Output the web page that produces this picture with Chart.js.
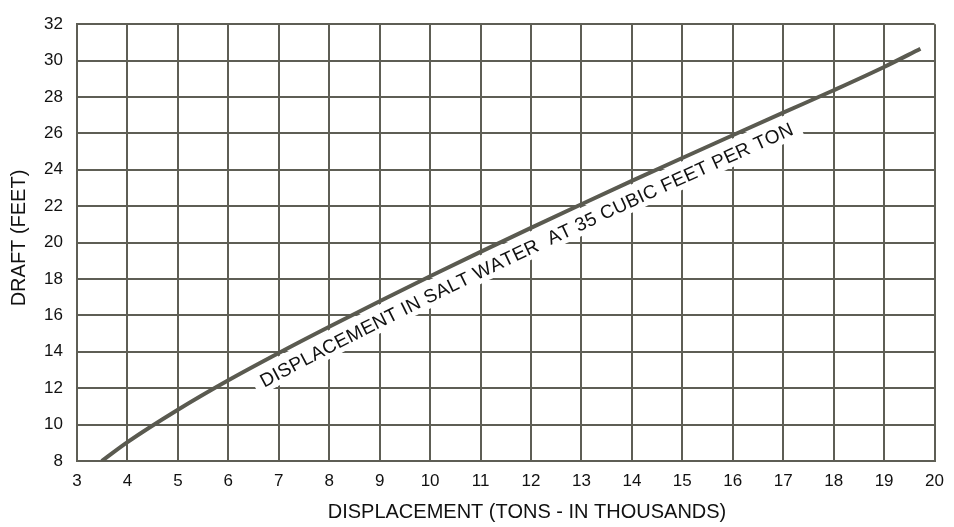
<!DOCTYPE html>
<html>
<head>
<meta charset="utf-8">
<title>Draft vs displacement</title>
<script src="https://cdn.jsdelivr.net/npm/chart.js@4.4.1/dist/chart.umd.min.js"></script>
<style>
  html, body { margin: 0; padding: 0; background: #fff; }
  canvas { display: block; }
</style>
</head>
<body>
<canvas id="chart" width="954" height="527"></canvas>
<script>
// displacement (thousands of tons) vs draft (feet)
const displacement = [3.49, 4, 5, 6, 7, 8, 9, 10, 11, 12, 13, 14, 15, 16, 17, 18, 19, 19.72];
const draft = [8, 9.04, 10.82, 12.44, 13.94, 15.38, 16.78, 18.15, 19.49, 20.81, 22.11, 23.39, 24.65, 25.9, 27.14, 28.37, 29.65, 30.65];

const xRange = [3, 20];
const yRange = [8, 32];

const xTitle = 'DISPLACEMENT (TONS - IN THOUSANDS)';
const yTitle = 'DRAFT (FEET)';
const curveText = 'DISPLACEMENT IN SALT WATER  AT 35 CUBIC FEET PER TON';

const FONT = "'Liberation Sans', Arial, Helvetica, sans-serif";
const GRID = '#5e5e55';
const INK = '#111';

Chart.defaults.font.family = FONT;
Chart.defaults.color = INK;

// text that follows the curve, on a white strip, just under it
const curveLabel = {
  id: 'curveLabel',
  beforeDatasetsDraw(chart, args, opts) {
    const meta = chart.getDatasetMeta(0);
    if (meta.dataset && meta.dataset.updateControlPoints) {
      meta.dataset.updateControlPoints(chart.chartArea, 'x');
    }
    const pts = meta.data;
    const path = [];
    for (let i = 0; i < pts.length - 1; i++) {
      const a = pts[i], b = pts[i + 1];
      const c1x = a.cp2x ?? a.x, c1y = a.cp2y ?? a.y;
      const c2x = b.cp1x ?? b.x, c2y = b.cp1y ?? b.y;
      for (let k = 0; k < 24; k++) {
        const t = k / 24, u = 1 - t;
        path.push({
          x: u*u*u*a.x + 3*u*u*t*c1x + 3*u*t*t*c2x + t*t*t*b.x,
          y: u*u*u*a.y + 3*u*u*t*c1y + 3*u*t*t*c2y + t*t*t*b.y
        });
      }
    }
    path.push({ x: pts[pts.length - 1].x, y: pts[pts.length - 1].y });

    const cum = [0];
    for (let i = 1; i < path.length; i++) {
      cum.push(cum[i - 1] + Math.hypot(path[i].x - path[i - 1].x, path[i].y - path[i - 1].y));
    }
    const at = s => {
      let i = 1;
      while (i < path.length - 1 && cum[i] < s) i++;
      const a = path[i - 1], b = path[i];
      const f = (s - cum[i - 1]) / ((cum[i] - cum[i - 1]) || 1);
      const ang = Math.atan2(b.y - a.y, b.x - a.x);
      return { x: a.x + (b.x - a.x) * f, y: a.y + (b.y - a.y) * f, ang };
    };
    const sAtX = px => {
      let i = 1;
      while (i < path.length - 1 && path[i].x < px) i++;
      const a = path[i - 1], b = path[i];
      const f = (px - a.x) / ((b.x - a.x) || 1);
      return cum[i - 1] + (cum[i] - cum[i - 1]) * f;
    };
    const off = (p, d) => ({ x: p.x - Math.sin(p.ang) * d, y: p.y + Math.cos(p.ang) * d });

    const xs = chart.scales.x;
    const s0 = sAtX(xs.getPixelForValue(opts.from));
    const s1 = sAtX(xs.getPixelForValue(opts.to));
    const ctx = chart.ctx;

    ctx.save();
    // white strip
    ctx.beginPath();
    for (let s = s0 - 8; s <= s1 + 10; s += 2) {
      const q = off(at(s), 16);
      if (s === s0 - 8) ctx.moveTo(q.x, q.y); else ctx.lineTo(q.x, q.y);
    }
    ctx.strokeStyle = '#fff';
    ctx.lineWidth = 26;
    ctx.lineCap = 'butt';
    ctx.lineJoin = 'round';
    ctx.stroke();

    // letters
    ctx.font = opts.font;
    ctx.fillStyle = INK;
    ctx.textAlign = 'center';
    ctx.textBaseline = 'alphabetic';
    const chars = [...opts.text];
    const widths = chars.map(c => ctx.measureText(c).width);
    const total = widths.reduce((a, b) => a + b, 0);
    const gap = (s1 - s0 - total) / (chars.length - 1);
    let s = s0;
    chars.forEach((c, i) => {
      const p = at(s + widths[i] / 2);
      const q = off(p, 24);
      ctx.save();
      ctx.translate(q.x, q.y);
      ctx.rotate(p.ang);
      ctx.fillText(c, 0, 0);
      ctx.restore();
      s += widths[i] + gap;
    });
    ctx.restore();
  }
};

const axisTitles = {
  id: 'axisTitles',
  afterDraw(chart) {
    const ctx = chart.ctx;
    ctx.save();
    ctx.fillStyle = INK;
    ctx.font = '20px ' + FONT;
    ctx.textAlign = 'center';
    ctx.textBaseline = 'middle';
    ctx.fillText(xTitle, 527, 512);
    ctx.translate(19, 238);
    ctx.rotate(-Math.PI / 2);
    ctx.fillText(yTitle, 0, 0);
    ctx.restore();
  }
};

new Chart(document.getElementById('chart'), {
  type: 'line',
  data: {
    datasets: [{
      label: 'Displacement in salt water',
      data: displacement.map((x, i) => ({ x, y: draft[i] })),
      borderColor: '#5a5a50',
      borderWidth: 4,
      pointRadius: 0,
      cubicInterpolationMode: 'monotone',
      fill: false
    }]
  },
  options: {
    responsive: false,
    animation: false,
    layout: { padding: { top: 11, right: 14, bottom: 0, left: 0 } },
    plugins: {
      legend: { display: false },
      tooltip: { enabled: false },
      curveLabel: { text: curveText, from: 6.49, to: 17.03, font: '19px ' + FONT }
    },
    scales: {
      x: {
        type: 'linear',
        min: xRange[0],
        max: xRange[1],
        afterFit: scale => { scale.height = 66; },
        ticks: { stepSize: 1, autoSkip: false, maxRotation: 0, padding: 10, font: { size: 17 }, color: INK },
        grid: { color: GRID, lineWidth: 2, drawTicks: false },
        border: { color: GRID, width: 2 }
      },
      y: {
        type: 'linear',
        min: yRange[0],
        max: yRange[1],
        afterFit: scale => { scale.width = 77; },
        ticks: { stepSize: 2, padding: 14, font: { size: 17 }, color: INK },
        grid: { color: GRID, lineWidth: 2, drawTicks: false },
        border: { color: GRID, width: 2 }
      }
    }
  },
  plugins: [curveLabel, axisTitles]
});
</script>
</body>
</html>
